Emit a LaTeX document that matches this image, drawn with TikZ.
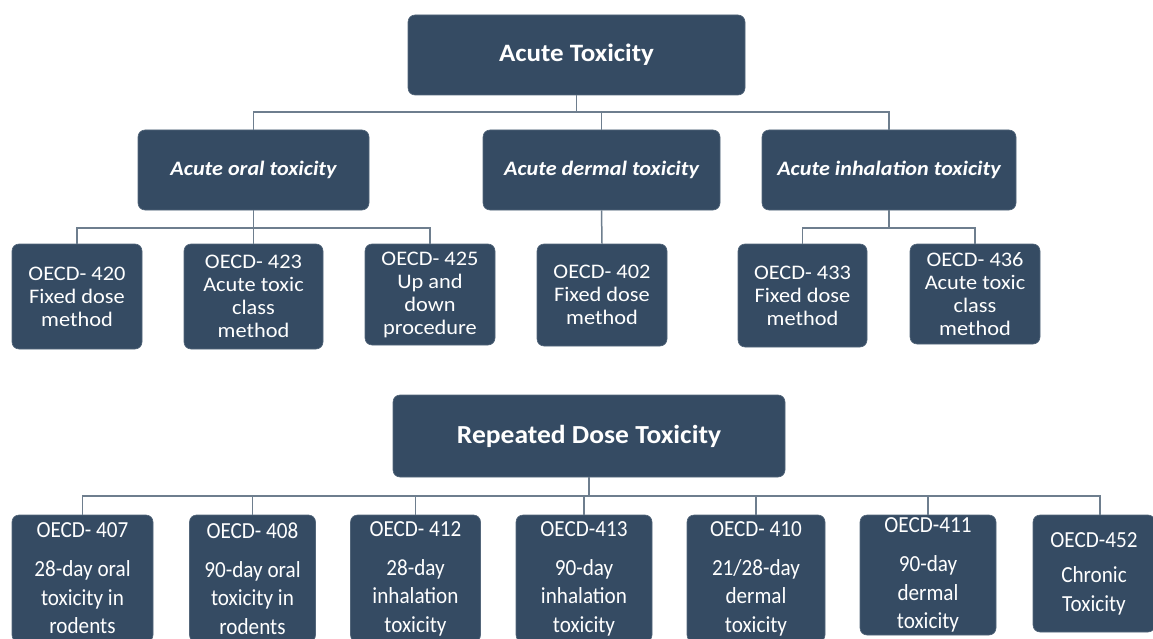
\documentclass[tikz,border=0pt]{standalone}
\usepackage{fontspec}
\setmainfont{Carlito}
\newfontfamily\topfont[FakeStretch=1.08]{Carlito}
\newfontfamily\botfont[FakeStretch=0.92]{Carlito}
\newfontfamily\repfont[FakeStretch=1.06]{Carlito}
\definecolor{boxc}{HTML}{354B63}
\definecolor{linec}{HTML}{6E7E8E}
\tikzset{
  box/.style={fill=boxc, draw=boxc!85!white, line width=0.6pt, rounded corners=7pt, text=white, align=center, inner sep=0pt},
  headbox/.style={box, font=\topfont\fontsize{25}{30}\selectfont\bfseries},
  subbox/.style={box, font=\topfont\fontsize{20.5}{24}\selectfont\bfseries\itshape},
  leafbox/.style={box, font=\topfont\fontsize{20.7}{23}\selectfont},
  rephead/.style={box, font=\repfont\fontsize{26}{30}\selectfont\bfseries},
  repbox/.style={box, font=\botfont\fontsize{23}{28.5}\selectfont},
  conn/.style={draw=linec, line width=1.5pt}
}
\begin{document}
\begin{tikzpicture}[x=1pt,y=-1pt]
\useasboundingbox (0,0) rectangle (1153,639);
\fill[white] (0,0) rectangle (1153,639);
% ---------- Acute toxicity ----------
\node[headbox, minimum width=337pt, minimum height=80pt] (top) at (576.5,55) {Acute Toxicity};
\node[subbox, minimum width=231pt, minimum height=80pt] (oral) at (253.5,170) {Acute oral toxicity};
\node[subbox, minimum width=237pt, minimum height=80pt] (derm) at (601.5,170) {Acute dermal toxicity};
\node[subbox, minimum width=254pt, minimum height=80pt] (inh) at (889,170) {Acute inhalation toxicity};

\node[leafbox, minimum width=130pt, minimum height=105pt] (o420) at (77,296.5) {OECD- 420\\Fixed dose\\method};
\node[leafbox, minimum width=139pt, minimum height=105pt] (o423) at (253.5,296.5) {OECD- 423\\Acute toxic\\class\\method};
\node[leafbox, minimum width=130pt, minimum height=101pt] (o425) at (430,294.5) {OECD- 425\\Up and\\down\\procedure};
\node[leafbox, minimum width=130pt, minimum height=102pt] (o402) at (602,295) {OECD- 402\\Fixed dose\\method};
\node[leafbox, minimum width=129pt, minimum height=103pt] (o433) at (802.5,295.5) {OECD- 433\\Fixed dose\\method};
\node[leafbox, minimum width=130pt, minimum height=100pt] (o436) at (975,294) {OECD- 436\\Acute toxic\\class\\method};

\coordinate (j1) at (576,112);
\coordinate (j2) at (253,228);
\coordinate (j3) at (889,228);
\draw[conn] (top.south) -- (top.south |- j1);
\draw[conn] (oral.north) -- (oral.north |- j1) -- (inh.north |- j1) -- (inh.north);
\draw[conn] (derm.north) -- (derm.north |- j1);

\draw[conn] (oral.south) -- (o423.north);
\draw[conn] (o420.north) -- (o420.north |- j2) -- (o425.north |- j2) -- (o425.north);
\draw[conn] (derm.south) -- (o402.north);
\draw[conn] (inh.south) -- (j3);
\draw[conn] (o433.north) -- (o433.north |- j3) -- (o436.north |- j3) -- (o436.north);

% ---------- Repeated dose toxicity ----------
\node[rephead, minimum width=392pt, minimum height=82pt] (rep) at (589,436) {Repeated Dose Toxicity};

\node[repbox, minimum width=141pt, minimum height=127pt] (r407) at (82.5,578.5) {OECD- 407\\[10.5pt]28-day oral\\toxicity in\\rodents};
\node[repbox, minimum width=126pt, minimum height=127pt] (r408) at (252.5,578.5) {OECD- 408\\[10.5pt]90-day oral\\toxicity in\\rodents};
\node[repbox, minimum width=130pt, minimum height=127pt] (r412) at (415.5,578.5) {OECD- 412\\[10.5pt]28-day\\inhalation\\toxicity};
\node[repbox, minimum width=136pt, minimum height=127pt] (r413) at (584,578.5) {OECD-413\\[10.5pt]90-day\\inhalation\\toxicity};
\node[repbox, minimum width=138pt, minimum height=127pt] (r410) at (756,578.5) {OECD- 410\\[10.5pt]21/28-day\\dermal\\toxicity};
\node[repbox, minimum width=136pt, minimum height=120pt] (r411) at (928,575) {OECD-411\\[10.5pt]90-day\\dermal\\toxicity};
\node[repbox, minimum width=122pt, minimum height=117pt] (r452) at (1094,573.5) {OECD-452\\[7pt]Chronic\\Toxicity};

\coordinate (j4) at (589,496);
\draw[conn] (rep.south) -- (j4);
\draw[conn] (r407.north) -- (r407.north |- j4) -- ([xshift=6pt]r452.north |- j4) -- ([xshift=6pt]r452.north);
\foreach \n in {r408,r412,r413,r410,r411}{
  \draw[conn] (\n.north) -- (\n.north |- j4);
}
\end{tikzpicture}
\end{document}
